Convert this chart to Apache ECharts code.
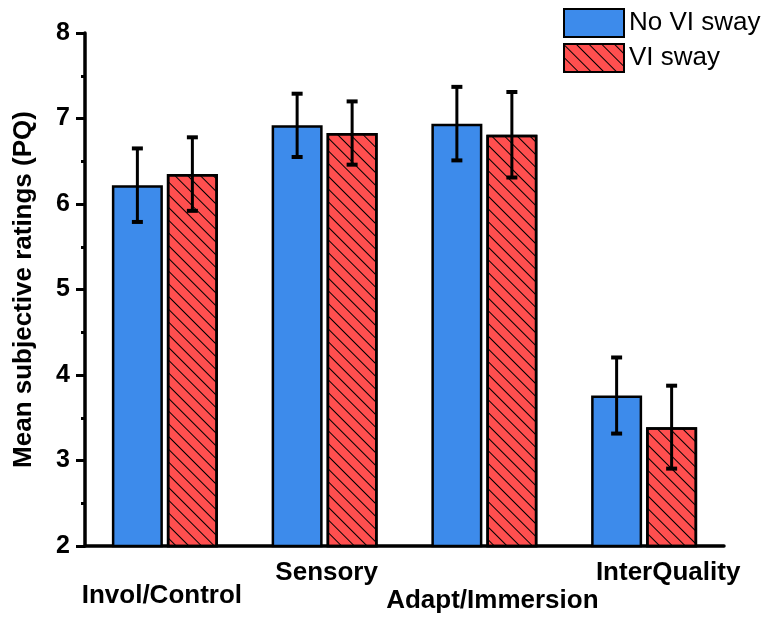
<!DOCTYPE html>
<html>
<head>
<meta charset="utf-8">
<script src="https://cdn.jsdelivr.net/npm/echarts@6/dist/echarts.min.js"></script>
<style>html,body{margin:0;padding:0;background:#fff}#c{width:770px;height:617px}</style>
</head>
<body>
<div id="c"></div>
<script>
var categories = ['Invol/Control', 'Sensory', 'Adapt/Immersion', 'InterQuality'];
var seriesNames = ['No VI sway', 'VI sway'];
var noSwayMean = [6.22, 6.92, 6.94, 3.76];
var noSwayErr = [0.43, 0.37, 0.43, 0.445];
var swayMean = [6.35, 6.83, 6.81, 3.39];
var swayErr = [0.43, 0.37, 0.50, 0.485];
var yTicks = [2, 3, 4, 5, 6, 7, 8];

var FONT = '"Liberation Sans", Arial, sans-serif';
var BAR_W = 51, BAR_GAP = 4;
// label styling (horizontal shift in px, top padding in px) per category position
var LABEL_STYLE = [
  { dx: -3, top: 23 },
  { dx: 2, top: 0 },
  { dx: 8, top: 28 },
  { dx: 24, top: 0 }
];

function errData(mean, err) {
  return mean.map(function (m, i) { return [i, m - err[i], m + err[i]]; });
}
function errSeries(mean, err, dir) {
  return {
    type: 'custom',
    xAxisIndex: 0, yAxisIndex: 0,
    z: 10,
    silent: true,
    data: errData(mean, err),
    renderItem: function (params, api) {
      var off = dir * (BAR_W + BAR_GAP) / 2;
      var lo = api.coord([api.value(0), api.value(1)]);
      var hi = api.coord([api.value(0), api.value(2)]);
      var x = lo[0] + off;
      var cap = 5.5;
      var st = { stroke: '#000', lineWidth: 3 };
      var cs = { stroke: '#000', lineWidth: 4 };
      return {
        type: 'group',
        children: [
          { type: 'line', shape: { x1: x, y1: lo[1], x2: x, y2: hi[1] }, style: st },
          { type: 'line', shape: { x1: x - cap, y1: lo[1], x2: x + cap, y2: lo[1] }, style: cs },
          { type: 'line', shape: { x1: x - cap, y1: hi[1], x2: x + cap, y2: hi[1] }, style: cs }
        ]
      };
    }
  };
}

var rich = {};
LABEL_STYLE.forEach(function (s, i) {
  rich['l' + i] = {
    fontFamily: FONT, fontWeight: 'bold', fontSize: 26, color: '#000',
    padding: [s.top, s.dx < 0 ? -2 * s.dx : 0, 0, s.dx > 0 ? 2 * s.dx : 0]
  };
});

var chart = echarts.init(document.getElementById('c'), null, { renderer: 'canvas' });
chart.setOption({
  animation: false,
  backgroundColor: '#fff',
  textStyle: { fontFamily: FONT },
  grid: { left: 85, right: 46, top: 33, bottom: 71 },
  legend: {
    left: 563, top: 8, orient: 'vertical', padding: 0,
    itemWidth: 60, itemHeight: 28, itemGap: 5,
    icon: 'rect',
    textStyle: { fontFamily: FONT, fontSize: 26, color: '#000' },
    data: seriesNames
  },
  xAxis: {
    type: 'category', data: categories,
    axisLine: { show: true, lineStyle: { color: '#000', width: 3.5 } },
    axisTick: { show: false },
    axisLabel: {
      interval: 0, margin: 14, color: '#000', fontFamily: FONT, fontWeight: 'bold', fontSize: 26,
      formatter: function (v, i) { return '{l' + i + '|' + v + '}'; },
      rich: rich
    }
  },
  yAxis: {
    type: 'value', min: yTicks[0], max: yTicks[yTicks.length - 1], interval: 1,
    name: 'Mean subjective ratings (PQ)', nameLocation: 'middle', nameGap: 48,
    nameTextStyle: { fontFamily: FONT, fontWeight: 'bold', fontSize: 26, color: '#000' },
    axisLine: { show: true, lineStyle: { color: '#000', width: 3.5 } },
    axisTick: { show: true, length: 9, lineStyle: { color: '#000', width: 3 } },
    minorTick: { show: true, splitNumber: 2, length: 4, lineStyle: { color: '#000', width: 3 } },
    axisLabel: { margin: 15, color: '#000', fontFamily: FONT, fontWeight: 'bold', fontSize: 25 },
    splitLine: { show: false }
  },
  series: [
    {
      name: seriesNames[0], type: 'bar',
      barWidth: BAR_W, barGap: (BAR_GAP / BAR_W * 100) + '%',
      data: noSwayMean,
      itemStyle: { color: '#3D8BEB', borderColor: '#000', borderWidth: 2.5 }
    },
    {
      name: seriesNames[1], type: 'bar',
      barWidth: BAR_W,
      data: swayMean,
      itemStyle: {
        color: '#FF4F4F', borderColor: '#000', borderWidth: 2.5,
        decal: { symbol: 'rect', symbolSize: 1, dashArrayX: [1, 0], dashArrayY: [1, 8], rotation: Math.PI / 4, color: '#000' }
      }
    },
    errSeries(noSwayMean, noSwayErr, -1),
    errSeries(swayMean, swayErr, 1)
  ]
});
</script>
</body>
</html>
